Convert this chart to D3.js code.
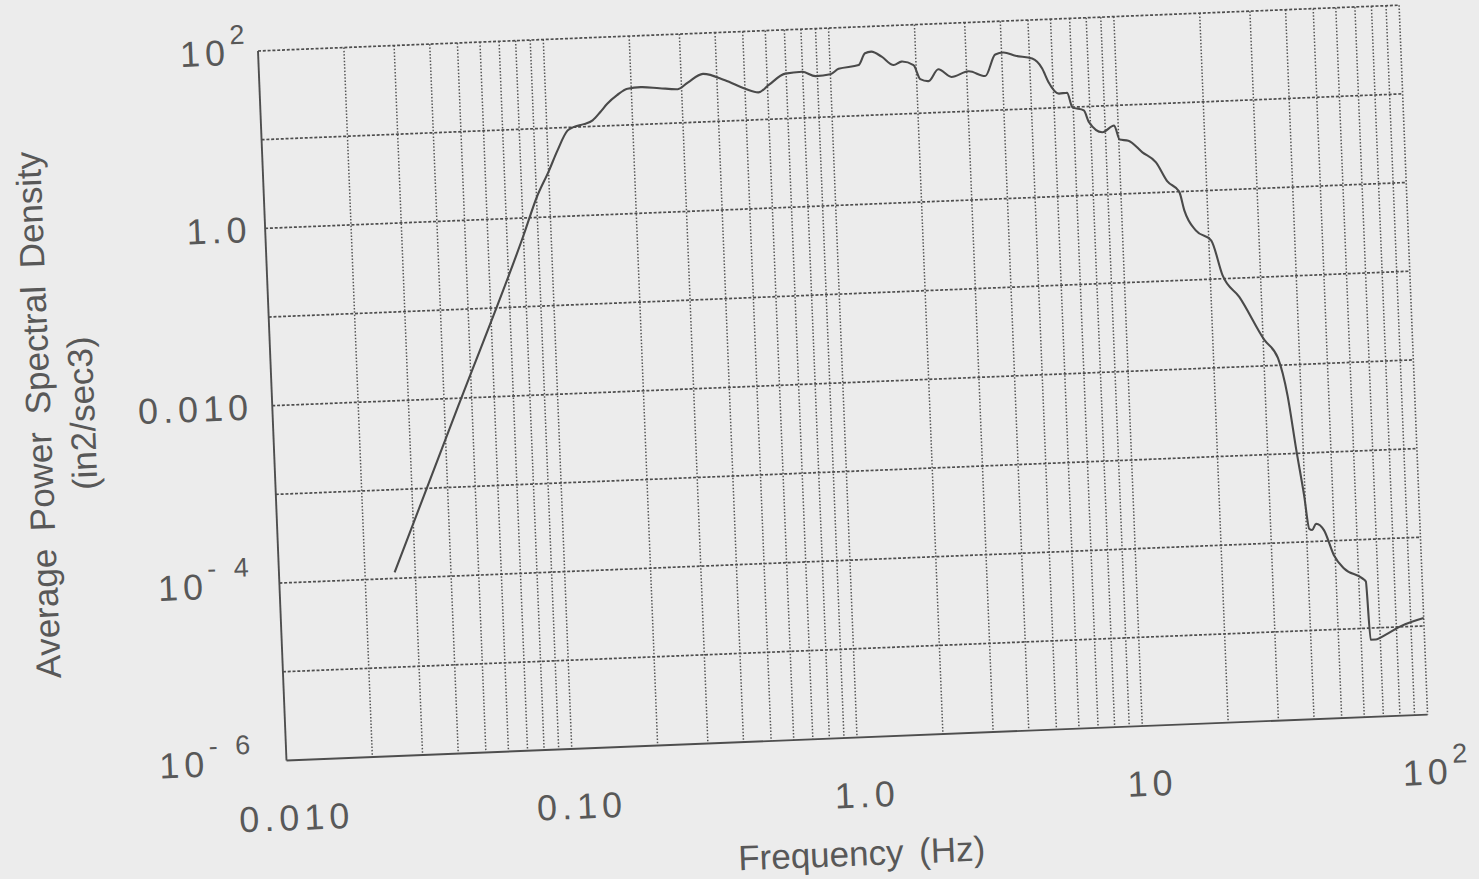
<!DOCTYPE html>
<html>
<head>
<meta charset="utf-8">
<script src="https://cdn.jsdelivr.net/npm/d3@7"></script>
<style>
body { margin: 0; background: #ececec; }
text { font-family: "Liberation Sans", Arial, sans-serif; fill: #585858; }
</style>
</head>
<body>
<svg id="chart" width="1479" height="879"></svg>
<script>
// frequency (Hz) and average PSD (in2/sec3)
const freq = [0.0254, 0.0447, 0.0804, 0.0904, 0.100, 0.108, 0.118, 0.124, 0.135, 0.145,
    0.155, 0.164, 0.178, 0.194, 0.216, 0.251, 0.291, 0.316, 0.358, 0.427,
    0.501, 0.557, 0.605, 0.695, 0.796, 0.887, 1.0, 1.07, 1.26, 1.33,
    1.40, 1.52, 1.67, 1.78, 1.96, 2.06, 2.20, 2.39, 2.65, 3.05,
    3.48, 3.80, 4.06, 4.47, 5.11, 5.52, 5.78, 6.27, 6.70, 6.95,
    7.62, 7.91, 8.79, 9.68, 10.07, 10.8, 12.05, 13.4, 14.6, 16.0,
    16.6, 18.1, 20.4, 22.1, 25.1, 30.3, 33.6, 35.9, 37.8, 39.7,
    40.9, 41.9, 43.3, 46.1, 49.5, 53.5, 61.8, 63.5, 64.7, 67.5,
    73.3, 83.0, 100];
const psd = [1.17e-4, 8.1e-3, 0.66, 1.72, 3.24, 5.5, 9.2, 10.0, 10.7, 11.7,
    14.5, 17.7, 21.9, 25.6, 26.3, 25.1, 24.0, 28.2, 34.8, 28.8,
    22.6, 20.3, 24.2, 32.1, 33.1, 29.2, 30.2, 34.4, 37.2, 50.1,
    51.9, 45.1, 35.9, 38.9, 35.1, 24.2, 22.8, 30.7, 24.8, 28.2,
    24.5, 42.4, 44.3, 40.1, 36.7, 28.1, 19.7, 14.4, 14.6, 10.0,
    9.06, 6.65, 5.05, 5.94, 4.10, 3.95, 2.88, 2.19, 1.32, 1.0,
    0.604, 0.357, 0.272, 0.109, 0.0614, 0.0196, 0.0121, 4.45e-3, 1.11e-3, 3.32e-4,
    1.40e-4, 1.35e-4, 1.58e-4, 1.32e-4, 6.87e-5, 4.82e-5, 3.66e-5, 3.35e-5, 7.4e-6, 7.4e-6,
    8.3e-6, 1.02e-5, 1.23e-5];

const xTickValues = [0.01, 0.1, 1, 10, 100];
const xTickBase = ["0.010", "0.10", "1.0", "10", "10"];
const xTickSup = ["", "", "", "", "2"];
const yTickValues = [1e2, 1, 1e-2, 1e-4, 1e-6];
const yTickBase = ["10", "1.0", "0.010", "10", "10"];
const yTickSup = ["2", "", "", "-4", "-6"];

const W = 1142, H = 710;
const svg = d3.select("#chart");
svg.append("rect").attr("width", 1479).attr("height", 879).attr("fill", "#ececec");

// the scanned page is a little tilted
const g = svg.append("g").attr("transform", "translate(258,51) rotate(-2.3)");

const x = d3.scaleLog().domain([0.01, 100]).range([0, W]);
const y = d3.scaleLog().domain([1e-6, 1e2]).range([H, 0]);

const isDecade = d => Math.abs(Math.log10(d) - Math.round(Math.log10(d))) < 1e-9;

// vertical grid, every 1..9 of each decade
g.selectAll(".vgrid")
    .data(x.ticks().filter(d => d > 0.01 && d < 100))
    .enter().append("line")
    .attr("class", "vgrid")
    .attr("x1", d => x(d)).attr("x2", d => x(d))
    .attr("y1", 0).attr("y2", H)
    .attr("stroke", "#555")
    .attr("stroke-width", 1.5)
    .attr("stroke-dasharray", "1.5 1.8");

// horizontal grid, decades only
g.selectAll(".hgrid")
    .data(y.ticks().filter(d => isDecade(d) && d > 1e-6 && d < 1e2))
    .enter().append("line")
    .attr("class", "hgrid")
    .attr("x1", 0).attr("x2", W)
    .attr("y1", d => y(d)).attr("y2", d => y(d))
    .attr("stroke", "#4e4e4e")
    .attr("stroke-width", 1.7)
    .attr("stroke-dasharray", "3 1.8");

// frame
g.append("line").attr("x1", 0).attr("x2", W).attr("y1", 0).attr("y2", 0)
    .attr("stroke", "#4e4e4e").attr("stroke-width", 1.7).attr("stroke-dasharray", "3 1.8");
g.append("line").attr("x1", W).attr("x2", W).attr("y1", 0).attr("y2", H)
    .attr("stroke", "#555").attr("stroke-width", 1.6).attr("stroke-dasharray", "1.5 1.8");
g.append("line").attr("x1", 0).attr("x2", 0).attr("y1", 0).attr("y2", H)
    .attr("stroke", "#4e4e4e").attr("stroke-width", 1.9);
g.append("line").attr("x1", 0).attr("x2", W).attr("y1", H).attr("y2", H)
    .attr("stroke", "#4e4e4e").attr("stroke-width", 1.9);

// curve
const line = d3.line()
    .x(d => x(d[0]))
    .y(d => y(d[1]))
    .curve(d3.curveMonotoneX);

g.append("path")
    .datum(d3.zip(freq, psd))
    .attr("d", line)
    .attr("fill", "none")
    .attr("stroke", "#4a4a4a")
    .attr("stroke-width", 2.1)
    .attr("stroke-linejoin", "round");

// y tick labels (label column stands upright on the scan, so it drifts left in the tilted frame)
const yLab = g.selectAll(".ylab")
    .data(yTickValues)
    .enter().append("text")
    .attr("class", "ylab")
    .attr("x", d => -8 - 0.032 * y(d))
    .attr("y", d => y(d) + 13)
    .attr("text-anchor", "end")
    .style("font-size", "36px")
    .style("letter-spacing", "5px");
yLab.append("tspan").text((d, i) => yTickBase[i]);
yLab.append("tspan")
    .attr("dy", -21)
    .style("font-size", "27px")
    .text((d, i) => yTickSup[i].split("").join(" "));

// x tick labels
const xLab = g.selectAll(".xlab")
    .data(xTickValues)
    .enter().append("text")
    .attr("class", "xlab")
    .attr("x", d => x(d) + 8)
    .attr("y", H + 70)
    .attr("text-anchor", "middle")
    .style("font-size", "36px")
    .style("letter-spacing", "5px");
xLab.append("tspan").text((d, i) => xTickBase[i]);
xLab.append("tspan")
    .attr("dy", -21)
    .style("font-size", "27px")
    .text((d, i) => xTickSup[i]);

// axis titles
g.append("text")
    .attr("x", W / 2)
    .attr("y", H + 128)
    .attr("text-anchor", "middle")
    .style("font-size", "35px")
    .style("word-spacing", "6px")
    .text("Frequency (Hz)");

g.append("text")
    .attr("transform", `translate(-222,${H / 2}) rotate(-90)`)
    .attr("text-anchor", "middle")
    .style("font-size", "35px")
    .style("word-spacing", "8px")
    .text("Average Power Spectral Density");

g.append("text")
    .attr("transform", `translate(-178,${H / 2}) rotate(-90)`)
    .attr("text-anchor", "middle")
    .style("font-size", "35px")
    .text("(in2/sec3)");
</script>
</body>
</html>
